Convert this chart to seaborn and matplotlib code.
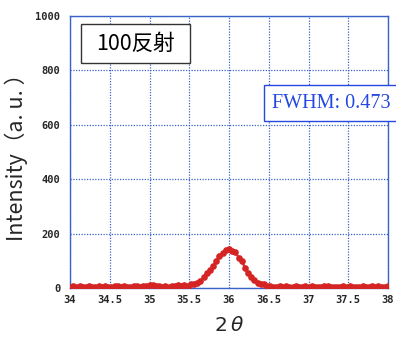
import numpy as np
import pandas as pd
import matplotlib
matplotlib.use("Agg")
import matplotlib.pyplot as plt
from matplotlib.patches import Rectangle
import seaborn as sns

# scan grid: 34.00 .. 38.00 with 0.04 step
two_theta = np.round(np.linspace(34.0, 38.0, 101), 2)

baseline_left = [5, 6, 4, 7, 5, 3, 6, 4, 5, 7, 4, 6, 3, 5, 8, 6, 4, 7, 5, 3,
                 6, 8, 5, 9, 7, 11, 10, 8, 6, 4, 7, 5, 8, 9, 10, 8, 11, 9]
peak = [14, 15, 20, 24, 40, 55, 65, 80, 100, 118, 128, 138, 145, 135, 133,
        112, 100, 75, 55, 40, 28, 18, 16, 14, 8, 6]
baseline_right = [5, 4, 6, 5, 7, 4, 3, 6, 5, 4, 7, 5, 6, 3, 5, 4, 8, 6, 5, 4,
                  3, 5, 6, 4, 7, 5, 3, 4, 6, 5, 4, 6, 5, 7, 5, 4, 6]
intensity = baseline_left + peak + baseline_right

x_ticks = [34, 34.5, 35, 35.5, 36, 36.5, 37, 37.5, 38]
x_tick_labels = ["34", "34.5", "35", "35.5", "36", "36.5", "37", "37.5", "38"]
y_ticks = [0, 200, 400, 600, 800, 1000]
y_tick_labels = ["0", "200", "400", "600", "800", "1000"]

peak_label = "100反射"
fwhm_label = "FWHM: 0.473"
x_label = "2$\\,\\theta$"
y_label = "Intensity（a. u. ）"

df = pd.DataFrame({"two_theta": two_theta, "intensity": intensity})

sns.set_style("white")
plt.rcParams["font.family"] = ["DejaVu Sans", "Noto Sans CJK JP"]
plt.rcParams["mathtext.fontset"] = "dejavusans"

W, H = 396, 340
fig = plt.figure(figsize=(W / 100, H / 100), dpi=100)
ax = fig.add_axes([70 / W, 1 - 288 / H, 318 / W, 272 / H])

red = "#d42424"
blue = "#3a62c8"

sns.lineplot(data=df, x="two_theta", y="intensity", ax=ax, color=red,
             linewidth=1.6, marker="o", markersize=4.8, markeredgewidth=0,
             zorder=3)

ax.set_xlim(34, 38)
ax.set_ylim(0, 1000)
ax.set_xticks(x_ticks)
ax.set_xticklabels(x_tick_labels, family="DejaVu Sans Mono", weight="bold",
                   fontsize=7.5)
ax.set_yticks(y_ticks)
ax.set_yticklabels(y_tick_labels, family="DejaVu Sans Mono", weight="bold",
                   fontsize=7.5)
ax.tick_params(axis="both", length=0)
ax.tick_params(axis="x", pad=5)
ax.tick_params(axis="y", pad=7)

ax.grid(True, color=blue, linestyle=(0, (1, 1.2)), linewidth=0.9, zorder=0)
for s in ax.spines.values():
    s.set_color(blue)
    s.set_linewidth(1.0)

ax.set_xlabel(x_label, fontsize=14.5, labelpad=8)
ax.set_ylabel(y_label, family=["Noto Sans CJK JP"], fontsize=15.5, labelpad=5)

# label box for "100反射"
fig.patches.append(Rectangle((81 / W, 1 - 63 / H), 109 / W, 39 / H,
                             transform=fig.transFigure, facecolor="white",
                             edgecolor="#333333", linewidth=1.0, zorder=4))
fig.text(135.5 / W, 1 - 43.5 / H, peak_label, family=["Noto Sans CJK JP"],
         fontsize=15.5, ha="center", va="center", color="black", zorder=5)

fig.text(272 / W, 1 - 103 / H, fwhm_label, family="Liberation Serif",
         fontsize=14.5, color="#2448e0", ha="left", va="center",
         bbox=dict(boxstyle="square,pad=0.4", facecolor="white",
                   edgecolor="#2448e0", linewidth=1.0))

fig.savefig("out.png", dpi=100)
